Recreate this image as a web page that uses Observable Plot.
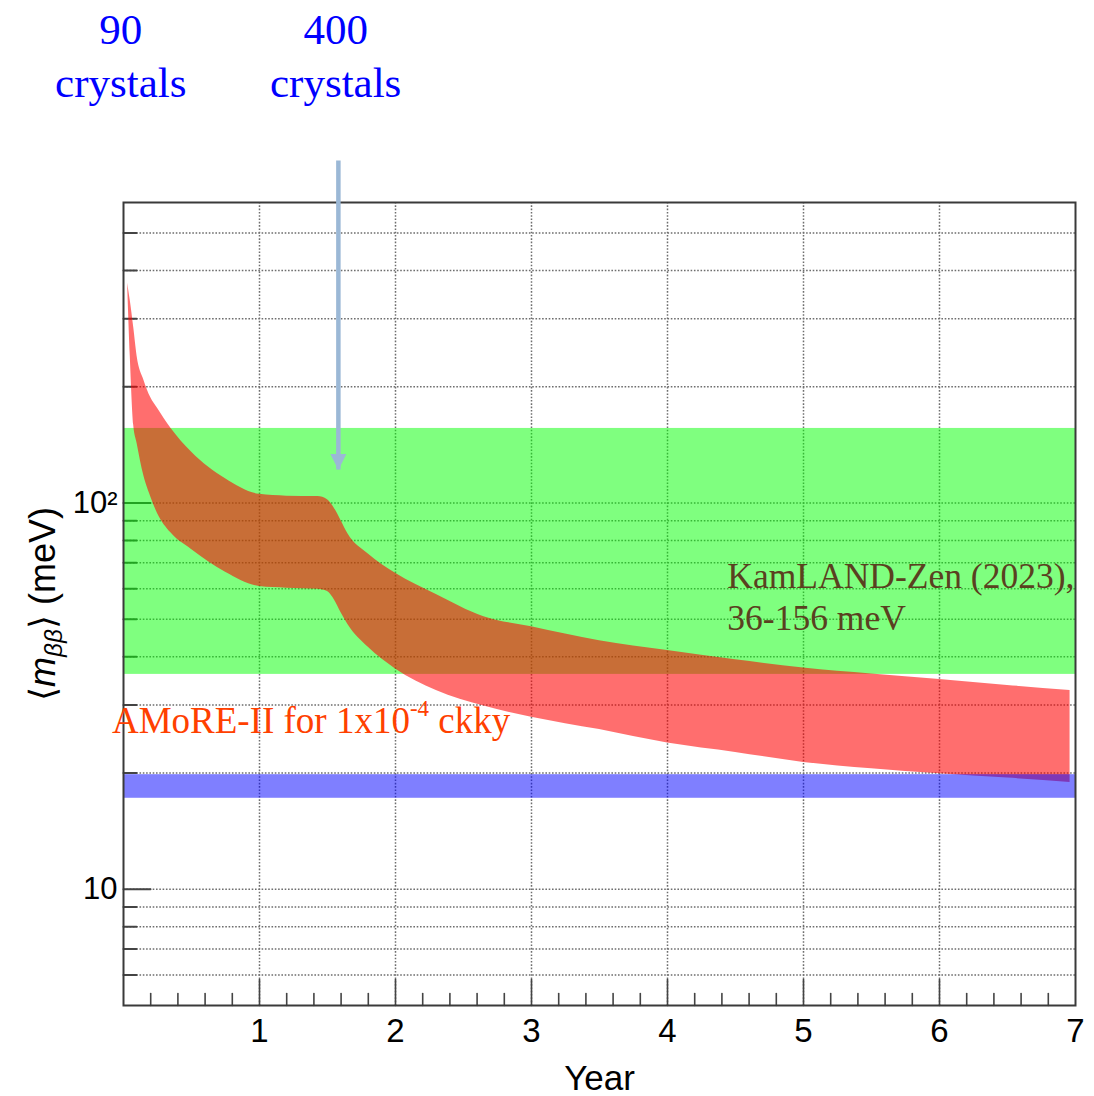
<!DOCTYPE html>
<html>
<head>
<meta charset="utf-8">
<script src="https://cdn.jsdelivr.net/npm/d3@7"></script>
<script src="https://cdn.jsdelivr.net/npm/@observablehq/plot@0.6"></script>
<style>
  html, body { margin: 0; padding: 0; background: #fff; }
</style>
</head>
<body>
<div id="chart"></div>
<script>
// ---- Data ----
const years    = [0.03, 0.05, 0.075, 0.1, 0.15, 0.2, 0.25, 0.35, 0.5, 0.75, 1.0, 1.2, 1.43, 1.5, 1.55, 1.6, 1.65, 1.8, 2.0, 2.3, 2.65, 3.0, 3.5, 4.0, 4.5, 5.0, 5.5, 6.0, 6.5, 6.96];
const upperMeV = [371, 334, 285, 240, 208, 187.5, 176, 156, 135.5, 115.5, 105.3, 104.2, 104, 102, 97, 90, 83.3, 73.8, 65.8, 58, 50.8, 47.8, 44, 41.5, 39.3, 37.4, 36.1, 34.9, 33.7, 32.7];
const lowerMeV = [371, 239, 159, 142.6, 117.4, 103.8, 94, 83.6, 75.8, 66.2, 60.8, 60.2, 59.8, 59, 56.2, 52, 48.5, 42.3, 37.2, 32.7, 29.8, 27.9, 25.9, 23.9, 22.6, 21.3, 20.5, 19.9, 19.4, 18.9];

const kamlandBand = [36, 156];     // meV
const blueBand    = [17.2, 19.8];  // meV

const xDomain = [0, 7];
const yDomain = [5, 600];

const xGrid       = [1, 2, 3, 4, 5, 6];
const xMajorTicks = [1, 2, 3, 4, 5, 6];
const xMinorTicks = [0.2, 0.4, 0.6, 0.8, 1.2, 1.4, 1.6, 1.8, 2.2, 2.4, 2.6, 2.8, 3.2, 3.4, 3.6, 3.8,
                     4.2, 4.4, 4.6, 4.8, 5.2, 5.4, 5.6, 5.8, 6.2, 6.4, 6.6, 6.8];
const xTickLabels = ["1", "2", "3", "4", "5", "6", "7"];
const xTickValues = [1, 2, 3, 4, 5, 6, 7];

const yMajorTicks = [10, 100];
const yTickLabels = ["10", "10²"];
const yMinorTicks = [6, 7, 8, 9, 20, 30, 40, 50, 60, 70, 80, 90, 200, 300, 400, 500];
const yGrid       = [6, 7, 8, 9, 10, 20, 30, 40, 50, 60, 70, 80, 90, 100, 200, 300, 400, 500];

// annotations (data coordinates: year, meV)
const kamlandText = {year: 4.44, meV: 57.7, text: "KamLAND-Zen (2023),\n36-156 meV"};
const amoreText   = {year: -0.085, meV: 27.2, text: "AMoRE-II for 1x10-4 ckky"};
const crystalText = [
  {year: -0.02, meV: 1462, text: "90\ncrystals"},
  {year: 1.56,  meV: 1462, text: "400\ncrystals"}
];
const arrow = {year: 1.58, fromMeV: 769, toMeV: 121.7};

// ---- Build ----
const band = years.map((t, i) => ({year: t, upper: upperMeV[i], lower: lowerMeV[i]}));

const tickShape = {draw(ctx, l) { ctx.moveTo(0, 0); ctx.lineTo(0, -l); }};
const headShape = {draw(ctx, l) { ctx.moveTo(0, 0); ctx.lineTo(-8, -l); ctx.lineTo(8, -l); ctx.closePath(); }};

const serif = "Liberation Serif, Times New Roman, serif";
const sans  = "Liberation Sans, Arial, Helvetica, sans-serif";

const plot = Plot.plot({
  width: 1094,
  height: 1096,
  marginLeft: 123,
  marginRight: 19,
  marginTop: 202,
  marginBottom: 91,
  style: {background: "white", fontFamily: sans},
  x: {domain: xDomain, axis: null},
  y: {type: "log", domain: yDomain, axis: null},
  marks: [
    // dotted grid
    Plot.ruleY(yGrid, {y: d => d, stroke: "#6e6e6e", strokeWidth: 1.5, strokeDasharray: "1.6,1.7"}),
    Plot.ruleX(xGrid, {x: d => d, stroke: "#6e6e6e", strokeWidth: 1.5, strokeDasharray: "1.6,1.7"}),
    // inward ticks
    Plot.vector(yMajorTicks, {y: d => d, frameAnchor: "left", rotate: 90, length: 27, anchor: "start", shape: tickShape, stroke: "#444", strokeWidth: 2, fill: "none"}),
    Plot.vector(yMinorTicks, {y: d => d, frameAnchor: "left", rotate: 90, length: 13, anchor: "start", shape: tickShape, stroke: "#444", strokeWidth: 2, fill: "none"}),
    Plot.vector(xMajorTicks, {x: d => d, frameAnchor: "bottom", rotate: 0, length: 26, anchor: "start", shape: tickShape, stroke: "#444", strokeWidth: 1.6, fill: "none"}),
    Plot.vector(xMinorTicks, {x: d => d, frameAnchor: "bottom", rotate: 0, length: 12, anchor: "start", shape: tickShape, stroke: "#444", strokeWidth: 1.6, fill: "none"}),
    // KamLAND-Zen band
    Plot.rect([kamlandBand], {y1: d => d[0], y2: d => d[1], fill: "#00ff00", fillOpacity: 0.5}),
    // AMoRE-II red band
    Plot.areaY(band, {x: "year", y1: "lower", y2: "upper", fill: "#ff0000", fillOpacity: 0.57, curve: "monotone-x"}),
    // blue band
    Plot.rect([blueBand], {y1: d => d[0], y2: d => d[1], fill: "#0000ff", fillOpacity: 0.5}),
    // frame
    Plot.frame({stroke: "#3a3a3a", strokeWidth: 2}),
    // axis labels
    Plot.text(xTickValues, {x: d => d, text: (d, i) => xTickLabels[i], frameAnchor: "bottom", dy: 26, lineAnchor: "middle", fontSize: 33, fill: "black"}),
    Plot.text(yMajorTicks, {y: d => d, text: (d, i) => yTickLabels[i], frameAnchor: "left", textAnchor: "end", dx: -6, lineAnchor: "middle", fontSize: 31, fill: "black"}),
    Plot.text(["Year"], {frameAnchor: "bottom", dy: 73, lineAnchor: "middle", fontSize: 35, fill: "black"}),
    Plot.text(["⟨mββ⟩ (meV)"], {frameAnchor: "left", textAnchor: "middle", rotate: -90, dx: -80, lineAnchor: "middle", fontSize: 36, fill: "black"}),
    // annotations
    Plot.text([kamlandText], {x: "year", y: "meV", text: "text", textAnchor: "start", lineAnchor: "middle", lineHeight: 1.2, fontSize: 35.5, fontFamily: serif, fill: "#5a4020"}),
    Plot.text([amoreText], {x: "year", y: "meV", text: "text", textAnchor: "start", lineAnchor: "middle", fontSize: 37, fontFamily: serif, fill: "#ff4000"}),
    Plot.text(crystalText, {x: "year", y: "meV", text: "text", textAnchor: "middle", lineAnchor: "middle", lineHeight: 1.24, fontSize: 43, fontFamily: serif, fill: "#0000ff"}),
    // arrow
    Plot.ruleX([arrow], {x: "year", y1: "fromMeV", y2: "toMeV", stroke: "#9bb8d6", strokeWidth: 4.5}),
    Plot.vector([arrow], {x: "year", y: "toMeV", length: 16, anchor: "start", shape: headShape, fill: "#9bb8d6", stroke: "none"})
  ]
});

document.getElementById("chart").appendChild(plot);

// rich text: subscripts / superscripts
const svg = d3.select(plot);
svg.selectAll("text").filter(function() { return this.textContent === "⟨mββ⟩ (meV)"; }).each(function() {
  const t = d3.select(this);
  t.text(null);
  t.append("tspan").text("⟨");
  t.append("tspan").attr("font-style", "italic").text("m");
  t.append("tspan").attr("font-style", "italic").attr("font-size", "0.68em").attr("dy", "0.3em").text("ββ");
  t.append("tspan").attr("dy", "-0.2em").text("⟩ (meV)");
});
svg.selectAll("text").filter(function() { return this.textContent === "AMoRE-II for 1x10-4 ckky"; }).each(function() {
  const t = d3.select(this);
  t.text(null);
  t.append("tspan").text("AMoRE-II for 1x10");
  t.append("tspan").attr("font-size", "0.62em").attr("dy", "-0.75em").text("-4");
  t.append("tspan").attr("dy", "0.465em").text(" ckky");
});
</script>
</body>
</html>
